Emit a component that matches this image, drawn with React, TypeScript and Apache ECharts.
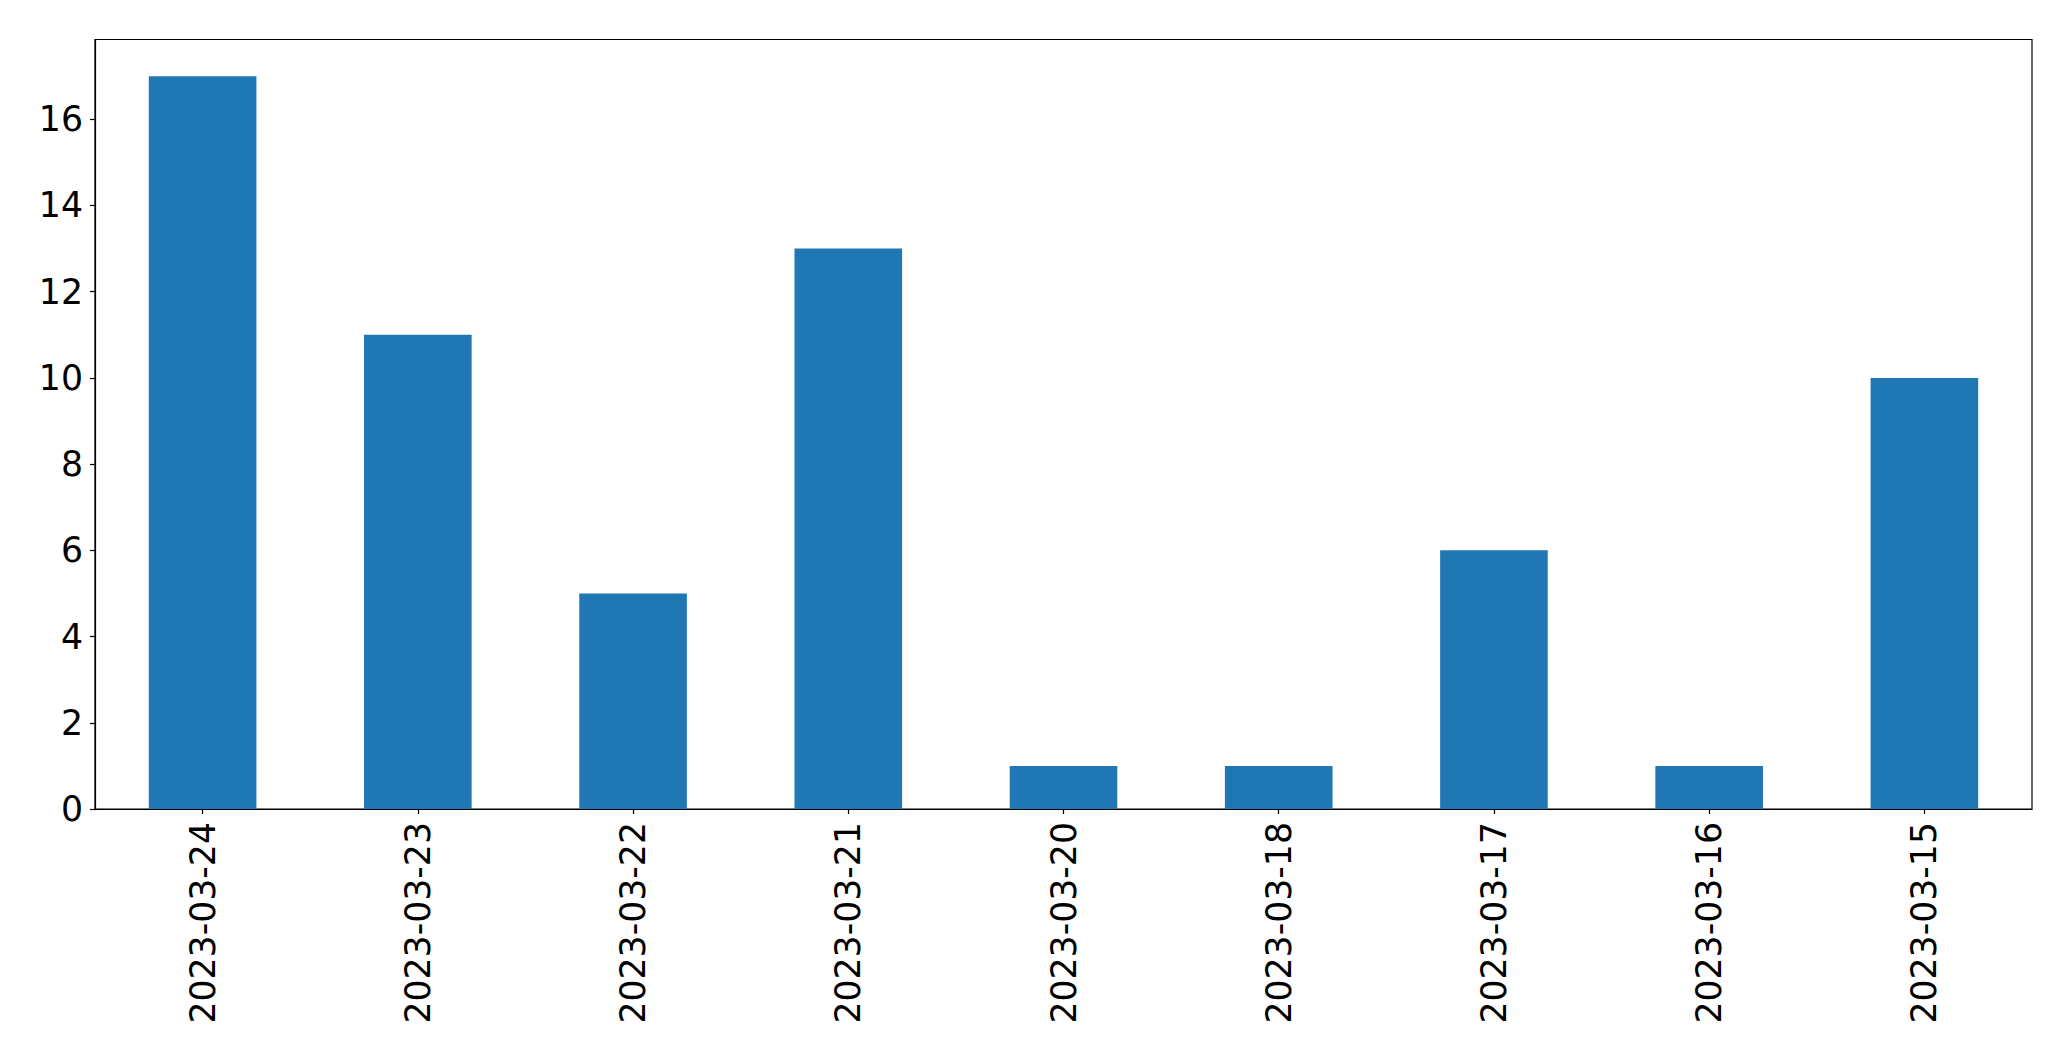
import React, { useEffect, useRef } from "react";
import * as echarts from "echarts";

const categories = [
  "2023-03-24",
  "2023-03-23",
  "2023-03-22",
  "2023-03-21",
  "2023-03-20",
  "2023-03-18",
  "2023-03-17",
  "2023-03-16",
  "2023-03-15",
];
const values = [17, 11, 5, 13, 1, 1, 6, 1, 10];
const yTicks = [0, 2, 4, 6, 8, 10, 12, 14, 16];
const yMax = 17.85;

export default function App() {
  const ref = useRef<HTMLDivElement>(null);
  useEffect(() => {
    if (!ref.current) return;
    const chart = echarts.init(ref.current, null, { renderer: "svg" });
    const font = "DejaVu Sans";
    chart.setOption({
      animation: false,
      backgroundColor: "#ffffff",
      grid: {
        left: 95,
        top: 39.5,
        right: 39,
        bottom: 252,
        show: true,
        borderColor: "#000000",
        borderWidth: 1.2,
        backgroundColor: "transparent",
      },
      xAxis: {
        type: "category",
        data: categories,
        boundaryGap: true,
        axisLine: { show: true, lineStyle: { color: "#000000", width: 1.2 } },
        axisTick: {
          show: true,
          alignWithLabel: true,
          length: 5,
          inside: false,
          lineStyle: { color: "#000000", width: 1.2 },
        },
        axisLabel: {
          rotate: 90,
          interval: 0,
          margin: 13,
          color: "#000000",
          fontFamily: font,
          fontSize: 34.7,
        },
        splitLine: { show: false },
      },
      yAxis: {
        type: "value",
        min: 0,
        max: yMax,
        axisLine: { show: true, lineStyle: { color: "#000000", width: 1.2 } },
        axisTick: {
          show: true,
          length: 5,
          inside: false,
          customValues: yTicks,
          lineStyle: { color: "#000000", width: 1.2 },
        },
        axisLabel: {
          customValues: yTicks,
          margin: 12,
          color: "#000000",
          fontFamily: font,
          fontSize: 34.7,
        },
        splitLine: { show: false },
      },
      series: [
        {
          type: "bar",
          data: values,
          barWidth: "50%",
          itemStyle: { color: "#1f77b4" },
        },
      ],
    });
    return () => chart.dispose();
  }, []);
  return (
    <div
      ref={ref}
      style={{ position: "fixed", left: 0, top: 0, width: 2071, height: 1061 }}
    />
  );
}
